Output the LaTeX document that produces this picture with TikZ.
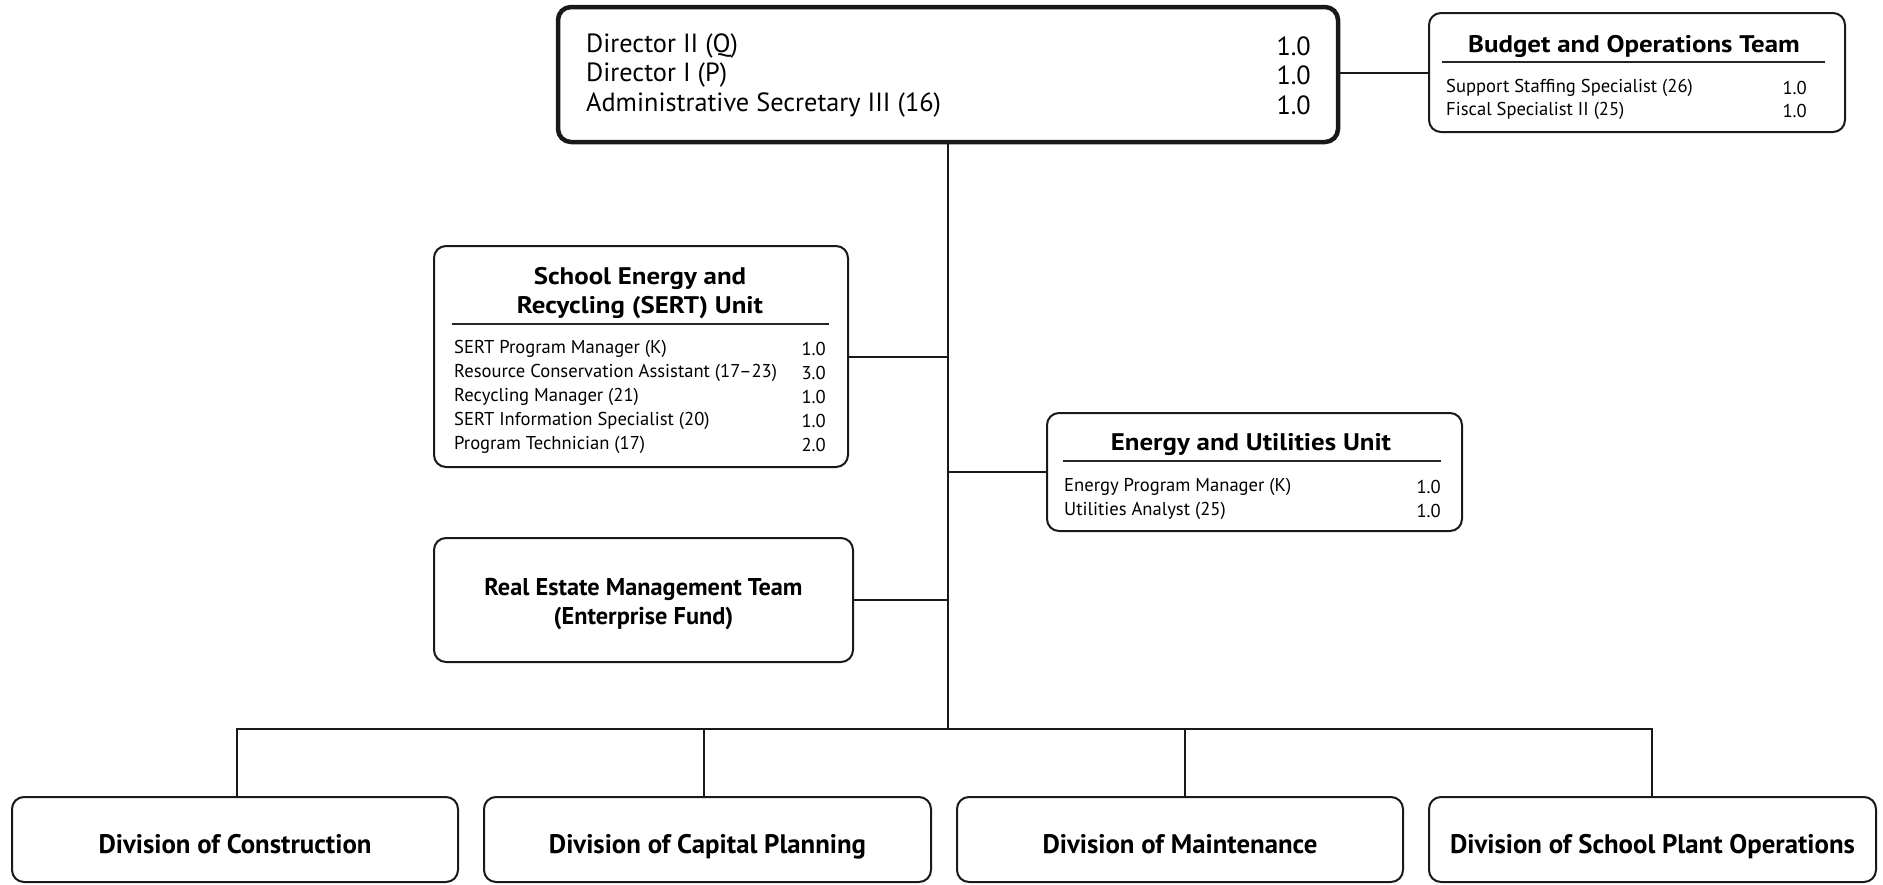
\documentclass[tikz,border=0pt]{standalone}
\usepackage{fontspec}
\setmainfont{PT Sans}
\newfontfamily\ttlfont{PT Sans}[FakeStretch=1.12]
\begin{document}
\begin{tikzpicture}[x=1pt,y=-1pt,
  box/.style={draw=black!90, line width=2pt, rounded corners=12pt, inner sep=0pt},
  topbox/.style={box, line width=4.5pt, rounded corners=13pt},
  conn/.style={draw=black!90, line width=2pt},
  rule/.style={draw=black!85, line width=1.2pt},
  big/.style={font=\fontsize{26.3}{29}\selectfont, inner sep=0pt},
  small/.style={font=\fontsize{18.6}{22}\selectfont, inner sep=0pt},
  ttl/.style={font=\ttlfont\bfseries\fontsize{24}{29}\selectfont, inner sep=0pt, align=center},
  div/.style={font=\bfseries\fontsize{26.8}{30}\selectfont, inner sep=0pt, align=center}
]
\useasboundingbox (0,0) rectangle (1883,884);

% top box
\node[topbox, minimum width=780, minimum height=135] (top) at (948,74.5) {};
\node[big, anchor=west] (t1) at (586,46.5) {Director II (Q)};
\node[big, anchor=east] (t1n) at (1311,46.5) {1.0};
\node[big, anchor=west] (t2) at (586,75.5) {Director I (P)};
\node[big, anchor=east] (t2n) at (1311,75.5) {1.0};
\node[big, anchor=west] (t3) at (586,105.5) {Administrative Secretary III (16)};
\node[big, anchor=east] (t3n) at (1311,105.5) {1.0};

% budget box
\node[box, minimum width=416, minimum height=119] (bud) at (1637,72.5) {};
\node[ttl] (budt) at (1634,46) {Budget and Operations Team};
\draw[rule] (1442,62) -- (1825,62);
\node[small, anchor=west] (b1) at (1446,87.5) {Support Staffing Specialist (26)};
\node[small, anchor=east] (b1n) at (1807,87.5) {1.0};
\node[small, anchor=west] (b2) at (1446,110.5) {Fiscal Specialist II (25)};
\node[small, anchor=east] (b2n) at (1807,110.5) {1.0};

% SERT box
\node[box, minimum width=414, minimum height=221] (sert) at (641,356.5) {};
\node[ttl] (sertt) at (640,293) {School Energy and\\Recycling (SERT) Unit};
\draw[rule] (452,324) -- (829,324);
\node[small, anchor=west] (s1) at (454,348.5) {SERT Program Manager (K)};
\node[small, anchor=east] (s1n) at (826,348.5) {1.0};
\node[small, anchor=west] (s2) at (454,372.5) {Resource Conservation Assistant (17–23)};
\node[small, anchor=east] (s2n) at (826,372.5) {3.0};
\node[small, anchor=west] (s3) at (454,396.5) {Recycling Manager (21)};
\node[small, anchor=east] (s3n) at (826,396.5) {1.0};
\node[small, anchor=west] (s4) at (454,420.5) {SERT Information Specialist (20)};
\node[small, anchor=east] (s4n) at (826,420.5) {1.0};
\node[small, anchor=west] (s5) at (454,444.5) {Program Technician (17)};
\node[small, anchor=east] (s5n) at (826,444.5) {2.0};

% Energy box
\node[box, minimum width=415, minimum height=118] (en) at (1254.5,472) {};
\node[ttl] (ent) at (1251,445) {Energy and Utilities Unit};
\draw[rule] (1063,461) -- (1441,461);
\node[small, anchor=west] (e1) at (1064,486.5) {Energy Program Manager (K)};
\node[small, anchor=east] (e1n) at (1441,486.5) {1.0};
\node[small, anchor=west] (e2) at (1064,510.5) {Utilities Analyst (25)};
\node[small, anchor=east] (e2n) at (1441,510.5) {1.0};

% Real estate box
\node[box, minimum width=419, minimum height=124] (re) at (643.5,600) {};
\node[align=center, inner sep=0pt, font=\bfseries\fontsize{24.3}{29}\selectfont] (ret) at (643.5,604) {Real Estate Management Team\\(Enterprise Fund)};

% divisions
\node[box, minimum width=446, minimum height=85] (d1) at (235,839.5) {};
\node[box, minimum width=447, minimum height=85] (d2) at (707.5,839.5) {};
\node[box, minimum width=446, minimum height=85] (d3) at (1180,839.5) {};
\node[box, minimum width=447, minimum height=85] (d4) at (1652.5,839.5) {};
\node[div, text height=19pt, text depth=0pt] (d1t) at (235,843.5) {Division of Construction};
\node[div, text height=19pt, text depth=0pt] (d2t) at (707.5,843.5) {Division of Capital Planning};
\node[div, text height=19pt, text depth=0pt] (d3t) at (1180,843.5) {Division of Maintenance};
\node[div, text height=19pt, text depth=0pt] (d4t) at (1652.5,843.5) {Division of School Plant Operations};

% connectors
\coordinate (bus) at (948,729);
\draw[conn] (bud.west) -- (bud.west -| top.east);
\draw[conn] (top.south) -- (bus);
\draw[conn] (sert.east) -- (sert.east -| top.south);
\draw[conn] (en.west) -- (en.west -| top.south);
\draw[conn] (re.east) -- (re.east -| top.south);
\draw[conn] ([xshift=2pt]d1.north) |- (bus) -| ([xshift=-1pt]d4.north);
\draw[conn] ([xshift=-3.5pt]d2.north) -- ([xshift=-3.5pt]d2.north |- bus);
\draw[conn] ([xshift=5pt]d3.north) -- ([xshift=5pt]d3.north |- bus);
\end{tikzpicture}
\end{document}
